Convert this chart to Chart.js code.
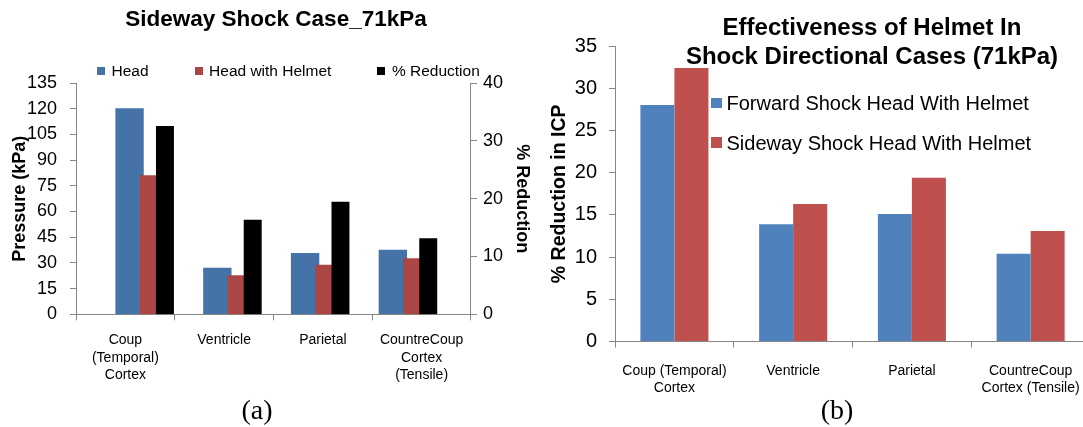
<!DOCTYPE html>
<html>
<head>
<meta charset="utf-8">
<title>Helmet shock charts</title>
<script src="https://cdn.jsdelivr.net/npm/chart.js@4.4.1/dist/chart.umd.min.js"></script>
<style>
  body { margin: 0; background: #fff; }
  #page { position: relative; width: 1083px; height: 427px; overflow: hidden; font-family: "Liberation Sans", Arial, sans-serif; color: #000; }
  canvas { position: absolute; top: 0; }
  #chartA { left: 0; }
  #chartB { left: 540px; }
  .title { position: absolute; font-weight: bold; text-align: center; white-space: nowrap; }
  #titleA { left: 0; width: 552px; top: 8px; font-size: 22.5px; line-height: 22.5px; }
  #titleB { left: 672px; width: 400px; top: 12px; font-size: 24px; line-height: 29.4px; }
  .legend { position: absolute; display: flex; }
  .legend .item { display: flex; align-items: center; white-space: nowrap; }
  .legend .sw { display: inline-block; }
  #legendA { left: 97px; top: 63px; gap: 46px; font-size: 15.5px; line-height: 16px; }
  #legendA .sw { width: 8px; height: 8px; margin-right: 6.5px; }
  #legendB { left: 711px; top: 93px; flex-direction: column; gap: 19.6px; font-size: 20px; line-height: 20px; }
  #legendB .sw { width: 10.5px; height: 10.5px; margin-right: 5px; }
  .cap { position: absolute; top: 394px; width: 80px; text-align: center; font-family: "Liberation Serif", "Times New Roman", serif; font-size: 28px; line-height: 32px; }
</style>
</head>
<body>
<div id="page">
  <canvas id="chartA" width="540" height="395"></canvas>
  <canvas id="chartB" width="560" height="412"></canvas>
  <div class="title" id="titleA">Sideway Shock Case_71kPa</div>
  <div class="title" id="titleB">Effectiveness of Helmet In<br>Shock Directional Cases (71kPa)</div>
  <div class="legend" id="legendA"></div>
  <div class="legend" id="legendB"></div>
  <div class="cap" style="left:217px">(a)</div>
  <div class="cap" style="left:797px">(b)</div>
</div>
<script>
// (a) sideway shock, pressures in kPa and % reduction
const categoriesA = [['Coup', '(Temporal)', 'Cortex'], 'Ventricle', 'Parietal', ['CountreCoup', 'Cortex', '(Tensile)']];
const headKpa = [120, 27, 35.6, 37.5];
const helmetKpa = [81, 22.6, 28.7, 32.5];
const reductionPct = [32.5, 16.3, 19.4, 13.1];

// (b) % reduction in ICP for both shock directions
const categoriesB = [['Coup (Temporal)', 'Cortex'], 'Ventricle', 'Parietal', ['CountreCoup', 'Cortex (Tensile)']];
const forwardPct = [28, 13.9, 15.1, 10.4];
const sidewayPct = [32.4, 16.3, 19.4, 13.1];

// axis ranges
const pressureMax = 135, pressureStep = 15;
const reductionMax = 40, reductionStep = 10;
const icpMax = 35, icpStep = 5;

Chart.defaults.font.family = "'Liberation Sans', Arial, sans-serif";
Chart.defaults.color = '#000';
const grey = '#868686';

// excel puts the secondary-axis column over the right half of the red one,
// so chart (a) places its bars on a hidden linear axis, shifted inside each category
const shiftHead = -0.14, shiftHelmet = 0.14, shiftReduction = 0.263;
function atShift(values, shift) {
    return values.map((v, i) => ({ x: i + shift, y: v }));
}

function valueAxis(position, max, step, title, tickSize, titleSize, tickPad, titlePad) {
    return {
        position: position,
        min: 0,
        max: max,
        ticks: { stepSize: step, font: { size: tickSize }, padding: tickPad },
        grid: { drawOnChartArea: false, tickLength: 6, color: grey },
        border: { color: grey },
        title: { display: true, text: title, font: { size: titleSize, weight: 'bold' }, padding: titlePad }
    };
}

function catAxis(labels, size, pad) {
    return {
        type: 'category',
        axis: 'x',
        position: 'bottom',
        labels: labels,
        offset: true,
        ticks: { font: { size: size, lineHeight: 1.23 }, padding: pad, maxRotation: 0, autoSkip: false },
        grid: { drawOnChartArea: false, offset: true, tickLength: 6, color: grey },
        border: { color: grey }
    };
}

const chartA = new Chart(document.getElementById('chartA'), {
    type: 'bar',
    data: {
        labels: categoriesA,
        datasets: [
            { label: 'Head', data: atShift(headKpa, shiftHead), backgroundColor: '#4572A7',
              xAxisID: 'xv', yAxisID: 'y', grouped: false, barThickness: 27.7, order: 2 },
            { label: 'Head with Helmet', data: atShift(helmetKpa, shiftHelmet), backgroundColor: '#AA4643',
              xAxisID: 'xv', yAxisID: 'y', grouped: false, barThickness: 27.7, order: 1 },
            { label: '% Reduction', data: atShift(reductionPct, shiftReduction), backgroundColor: '#000000',
              xAxisID: 'xv', yAxisID: 'y2', grouped: false, barThickness: 17.3, order: 0 }
        ]
    },
    options: {
        responsive: false,
        animation: false,
        layout: { padding: { top: 83, left: 0, right: 0, bottom: 0 } },
        plugins: { legend: { display: false }, tooltip: { enabled: false } },
        scales: {
            x: catAxis(categoriesA, 14, 11.5),
            xv: { type: 'linear', axis: 'x', position: 'bottom', display: false, min: -0.5, max: categoriesA.length - 0.5 },
            y: valueAxis('left', pressureMax, pressureStep, 'Pressure (kPa)', 18, 18, 13, { top: 9.2, bottom: -16.8 }),
            y2: valueAxis('right', reductionMax, reductionStep, '% Reduction', 18, 18, 6, { top: 7.2, bottom: 2.2 })
        }
    }
});

const chartB = new Chart(document.getElementById('chartB'), {
    type: 'bar',
    data: {
        labels: categoriesB,
        datasets: [
            { label: 'Forward Shock Head With Helmet', data: forwardPct, backgroundColor: '#4F81BD',
              categoryPercentage: 0.573, barPercentage: 1 },
            { label: 'Sideway Shock Head With Helmet', data: sidewayPct, backgroundColor: '#C0504D',
              categoryPercentage: 0.573, barPercentage: 1 }
        ]
    },
    options: {
        responsive: false,
        animation: false,
        layout: { padding: { top: 46, left: 1, right: 10, bottom: 0 } },
        plugins: { legend: { display: false }, tooltip: { enabled: false } },
        scales: {
            x: catAxis(categoriesB, 14, 15),
            y: valueAxis('left', icpMax, icpStep, '% Reduction in ICP', 20, 19.5, 12, { top: 7, bottom: -8.6 })
        }
    }
});

function buildLegend(chart, id) {
    const box = document.getElementById(id);
    chart.data.datasets.forEach(ds => {
        const item = document.createElement('div');
        item.className = 'item';
        const sw = document.createElement('span');
        sw.className = 'sw';
        sw.style.background = ds.backgroundColor;
        item.appendChild(sw);
        item.appendChild(document.createTextNode(ds.label));
        box.appendChild(item);
    });
}
buildLegend(chartA, 'legendA');
buildLegend(chartB, 'legendB');
</script>
</body>
</html>
